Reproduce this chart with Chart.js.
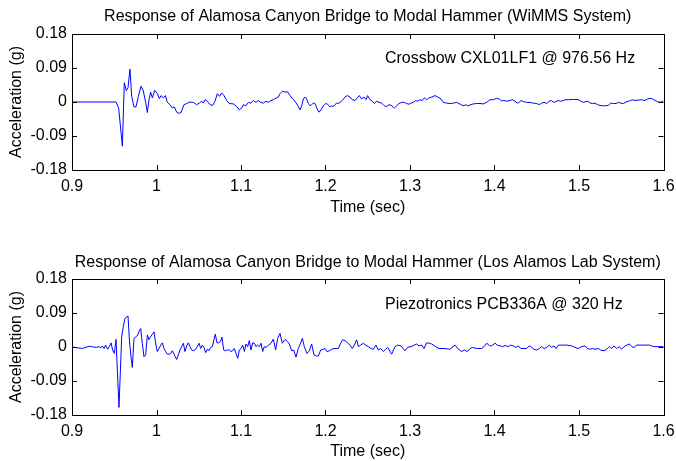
<!DOCTYPE html>
<html>
<head>
<meta charset="utf-8">
<script src="https://cdn.jsdelivr.net/npm/chart.js@4.4.1/dist/chart.umd.min.js"></script>
<style>
  html, body { margin: 0; padding: 0; background: #fff; }
  #wrap { position: relative; width: 676px; height: 461px; overflow: hidden; }
  canvas { position: absolute; left: 0; }
</style>
</head>
<body>
<div id="wrap">
  <canvas id="topChart" width="676" height="230" style="top:0"></canvas>
  <canvas id="bottomChart" width="676" height="231" style="top:230px"></canvas>
</div>
<script>
// tick labels
const xTicks = [0.9, 1.0, 1.1, 1.2, 1.3, 1.4, 1.5, 1.6];
const xTickLabels = ['0.9', '1', '1.1', '1.2', '1.3', '1.4', '1.5', '1.6'];
const yTicks = [-0.18, -0.09, 0, 0.09, 0.18];
const yTickLabels = ['-0.18', '-0.09', '0', '0.09', '0.18'];

// WiMMS (Crossbow, 976.56 Hz)
const wimmsTime = [
  0.9, 0.9521, 0.9552, 0.9596, 0.9619, 0.9643, 0.9663, 0.9686, 0.9706, 0.9734,
  0.9757, 0.9785, 0.9817, 0.9844, 0.9872, 0.9892, 0.9911, 0.9931, 0.9951, 0.9978,
  1.0010, 1.0034, 1.0053, 1.0081, 1.0105, 1.0128, 1.0160, 1.0187, 1.0211, 1.0239,
  1.0266, 1.0290, 1.0325, 1.0357, 1.0396, 1.0436, 1.0475, 1.0507, 1.0535, 1.0554,
  1.0574, 1.0602, 1.0633, 1.0665, 1.0692, 1.0720, 1.0744, 1.0771, 1.0799, 1.0830,
  1.0862, 1.0909, 1.0949, 1.0980, 1.1008, 1.1028, 1.1059, 1.1087, 1.1118, 1.1146,
  1.1177, 1.1205, 1.1233, 1.1264, 1.1296, 1.1323, 1.1351, 1.1383, 1.1414, 1.1442,
  1.1462, 1.1493, 1.1521, 1.1552, 1.1580, 1.1611, 1.1639, 1.1679, 1.1698, 1.1718,
  1.1738, 1.1757, 1.1777, 1.1797, 1.1817, 1.1836, 1.1856, 1.1876, 1.1896, 1.1923,
  1.1947, 1.1974, 1.2002, 1.2026, 1.2053, 1.2073, 1.2093, 1.2112, 1.2132, 1.2152,
  1.2172, 1.2199, 1.2231, 1.2258, 1.2290, 1.2318, 1.2349, 1.2377, 1.2400, 1.2428,
  1.2456, 1.2479, 1.2499, 1.2527, 1.2554, 1.2578, 1.2606, 1.2633, 1.2665, 1.2696,
  1.2724, 1.2752, 1.2783, 1.2815, 1.2842, 1.2870, 1.2901, 1.2933, 1.2961, 1.2988,
  1.3012, 1.3040, 1.3067, 1.3091, 1.3118, 1.3146, 1.3170, 1.3197, 1.3225, 1.3257,
  1.3296, 1.3328, 1.3367, 1.3395, 1.3434, 1.3474, 1.3513, 1.3552, 1.3580, 1.3611,
  1.3639, 1.3659, 1.3682, 1.3710, 1.3750, 1.3789, 1.3828, 1.3868, 1.3907, 1.3947,
  1.3986, 1.4026, 1.4057, 1.4085, 1.4112, 1.4144, 1.4183, 1.4215, 1.4243, 1.4270,
  1.4294, 1.4314, 1.4341, 1.4381, 1.4420, 1.4460, 1.4499, 1.4531, 1.4558, 1.4586,
  1.4617, 1.4649, 1.4677, 1.4696, 1.4728, 1.4755, 1.4783, 1.4815, 1.4834, 1.4874,
  1.4933, 1.4992, 1.5024, 1.5051, 1.5083, 1.5111, 1.5130, 1.5162, 1.5189, 1.5217,
  1.5249, 1.5280, 1.5308, 1.5347, 1.5375, 1.5406, 1.5438, 1.5466, 1.5493, 1.5525,
  1.5556, 1.5584, 1.5612, 1.5635, 1.5663, 1.5702, 1.5742, 1.5781, 1.5809, 1.5840,
  1.5872, 1.5900, 1.5927, 1.5959, 1.5990, 1.6
];
const wimmsAccel = [
  0, 0, -0.016, -0.117, 0.051, 0.030, 0.038, 0.087, 0.015, -0.013,
  -0.013, 0.015, 0.042, 0.029, -0.001, -0.028, 0.006, 0.026, 0.011, 0.031,
  0.022, 0.009, 0.017, 0.011, 0.017, -0.001, -0.007, -0.016, -0.013, -0.027,
  -0.030, -0.028, -0.007, -0.004, 0, -0.001, -0.007, -0.003, 0.002, -0.003,
  0.006, 0.002, -0.007, -0.009, 0.002, 0.022, 0.015, 0.024, 0.017, 0.004,
  -0.004, -0.005, -0.012, -0.021, -0.016, -0.007, -0.010, -0.001, -0.003, 0.004,
  -0.001, 0.004, -0.001, -0.003, 0.002, -0.001, 0.004, 0.006, 0.010, 0.013,
  0.022, 0.029, 0.026, 0.027, 0.017, 0.008, 0.002, -0.012, -0.021, -0.010,
  0.008, 0.013, 0.008, -0.004, -0.010, -0.007, -0.003, -0.004, -0.016, -0.027,
  -0.021, -0.010, -0.004, -0.006, -0.013, -0.010, -0.012, -0.007, -0.003, -0.004,
  -0.001, 0.004, 0.013, 0.017, 0.013, 0.006, 0.004, 0.011, 0.017, 0.008,
  0.013, 0.006, 0.017, 0.006, 0.002, -0.004, 0.002, -0.001, -0.003, -0.010,
  -0.012, -0.007, -0.010, -0.016, -0.010, -0.004, -0.001, -0.001, -0.004, -0.006,
  -0.003, -0.001, 0.004, 0.002, 0.006, 0.004, 0.011, 0.006, 0.011, 0.013,
  0.017, 0.013, 0.008, -0.001, -0.003, -0.004, -0.003, -0.001, -0.004, -0.008,
  -0.010, -0.007, -0.010, -0.008, -0.005, -0.004, -0.004, -0.005, -0.001, 0.006,
  0.006, 0.010, 0.008, 0.003, 0.004, 0.002, 0.004, 0.006, 0.002, -0.003,
  -0.001, 0.004, 0.001, -0.001, -0.001, -0.003, -0.004, -0.007, -0.003, -0.001,
  -0.004, 0.002, 0.004, -0.001, 0.001, 0.004, 0.002, 0.004, 0.006, 0.006,
  0.007, 0.006, 0.002, -0.001, 0.001, 0.002, -0.003, -0.004, -0.003, -0.007,
  -0.009, -0.010, -0.010, -0.009, -0.003, -0.004, -0.004, -0.001, -0.003, -0.004,
  0, 0.002, 0.004, 0.006, 0.004, 0.005, 0.006, 0.004, 0.008, 0.010,
  0.008, 0.004, 0.001, -0.001, 0.002, 0.002
];

// Los Alamos lab system (PCB336A, 320 Hz)
const lanlTime = [
  0.9, 0.9126, 0.9154, 0.9213, 0.9252, 0.9292, 0.9323, 0.9339, 0.9359, 0.9379,
  0.9398, 0.9422, 0.9442, 0.9462, 0.9481, 0.9501, 0.9521, 0.9556, 0.9588, 0.9607,
  0.9627, 0.9663, 0.9679, 0.9698, 0.9714, 0.9734, 0.9753, 0.9777, 0.9793, 0.9813,
  0.9832, 0.9852, 0.9872, 0.9892, 0.9911, 0.9931, 0.9951, 0.9971, 0.9990, 1.0010,
  1.0030, 1.0050, 1.0069, 1.0089, 1.0109, 1.0128, 1.0148, 1.0168, 1.0187, 1.0211,
  1.0239, 1.0259, 1.0278, 1.0298, 1.0318, 1.0337, 1.0357, 1.0377, 1.0397, 1.0416,
  1.0436, 1.0464, 1.0483, 1.0503, 1.0523, 1.0542, 1.0562, 1.0582, 1.0602, 1.0621,
  1.0641, 1.0661, 1.0680, 1.0696, 1.0716, 1.0736, 1.0756, 1.0775, 1.0795, 1.0815,
  1.0838, 1.0862, 1.0882, 1.0901, 1.0921, 1.0941, 1.0961, 1.0980, 1.1000, 1.1020,
  1.1040, 1.1059, 1.1079, 1.1099, 1.1118, 1.1138, 1.1158, 1.1178, 1.1197, 1.1217,
  1.1237, 1.1257, 1.1276, 1.1296, 1.1316, 1.1355, 1.1383, 1.1410, 1.1434, 1.1462,
  1.1489, 1.1521, 1.1552, 1.1572, 1.1600, 1.1623, 1.1651, 1.1678, 1.1702, 1.1726,
  1.1749, 1.1781, 1.1809, 1.1836, 1.1864, 1.1895, 1.1915, 1.1943, 1.1974, 1.1994,
  1.2018, 1.2045, 1.2073, 1.2101, 1.2132, 1.2152, 1.2179, 1.2203, 1.2231, 1.2258,
  1.2290, 1.2318, 1.2341, 1.2369, 1.2389, 1.2416, 1.2448, 1.2475, 1.2507, 1.2538,
  1.2566, 1.2598, 1.2625, 1.2653, 1.2684, 1.2712, 1.2736, 1.2783, 1.2822, 1.2854,
  1.2893, 1.2941, 1.2972, 1.3012, 1.3051, 1.3079, 1.3106, 1.3138, 1.3166, 1.3197,
  1.3229, 1.3256, 1.3304, 1.3343, 1.3414, 1.3473, 1.3533, 1.3572, 1.3611, 1.3643,
  1.3678, 1.3710, 1.3742, 1.3789, 1.3848, 1.3876, 1.3907, 1.3939, 1.3966, 1.4006,
  1.4033, 1.4065, 1.4097, 1.4124, 1.4164, 1.4191, 1.4223, 1.4254, 1.4282, 1.4310,
  1.4349, 1.4381, 1.4412, 1.4440, 1.4467, 1.4499, 1.4531, 1.4558, 1.4586, 1.4617,
  1.4649, 1.4677, 1.4704, 1.4728, 1.4755, 1.4795, 1.4854, 1.4913, 1.4953, 1.4992,
  1.5032, 1.5071, 1.5099, 1.5130, 1.5162, 1.5189, 1.5229, 1.5256, 1.5296, 1.5327,
  1.5359, 1.5387, 1.5414, 1.5446, 1.5477, 1.5505, 1.5533, 1.5564, 1.5596, 1.5623,
  1.5651, 1.5683, 1.5722, 1.5781, 1.5833, 1.5860, 1.5888, 1.5939, 1.6
];
const lanlAccel = [
  0, -0.004, -0.001, 0.002, 0, -0.001, 0.001, -0.003, 0.003, -0.004,
  0.005, -0.006, 0.001, 0.011, -0.008, -0.017, 0.020, -0.160, 0.027, 0.054,
  0.076, 0.082, 0.019, -0.026, -0.054, 0.023, 0.026, 0.032, 0.041, 0.049,
  0.010, -0.026, -0.021, 0.032, 0.019, 0.027, 0.034, 0.040, 0.010, -0.012,
  -0.004, 0.005, 0.011, -0.004, -0.012, -0.019, -0.019, -0.017, -0.010, -0.021,
  -0.033, -0.021, -0.008, 0.001, 0.010, -0.012, 0.003, 0.011, 0.001, -0.008,
  -0.010, -0.006, 0.001, 0.010, -0.004, 0.005, -0.001, -0.015, -0.006, -0.010,
  -0.001, 0.001, 0.019, 0.034, 0.011, 0.011, 0.014, 0.026, -0.008, -0.010,
  -0.008, -0.008, -0.012, -0.010, -0.004, -0.017, -0.030, -0.008, -0.004, 0.005,
  -0.012, 0.008, 0.001, 0.017, -0.008, 0.011, 0.010, 0.001, 0.005, 0.001,
  0.010, -0.012, 0.001, -0.001, 0.003, 0.010, 0.021, -0.008, 0.023, 0.036,
  0.010, 0.020, 0.014, 0.008, -0.010, -0.008, -0.027, -0.004, 0.008, 0.023,
  0.001, -0.017, -0.010, 0.008, -0.021, -0.024, -0.024, -0.008, -0.006, -0.004,
  -0.012, -0.010, -0.006, -0.004, -0.004, -0.004, 0.010, 0.019, 0.017, 0.012,
  0.005, -0.004, 0.005, 0.019, 0.001, 0.005, 0.010, 0.005, 0.001, -0.004,
  -0.006, 0.005, -0.008, -0.004, -0.012, -0.006, -0.001, -0.019, 0.001, 0.005,
  0.003, -0.010, -0.001, 0.001, 0.005, 0.008, 0.003, 0.005, -0.004, 0.011,
  0.010, 0.008, 0.001, -0.004, -0.004, -0.006, 0.005, -0.006, -0.012, -0.008,
  -0.012, -0.004, -0.001, -0.004, -0.004, 0.001, 0.010, 0.004, 0.003, 0.010,
  0.005, 0.003, 0.001, 0.004, 0.001, 0.005, 0.003, -0.001, 0.003, -0.004,
  -0.004, -0.004, 0.003, -0.001, -0.006, -0.008, -0.004, 0.001, -0.004, -0.001,
  0.005, -0.001, 0.003, -0.004, 0.005, 0.005, 0.005, 0.003, -0.001, -0.004,
  0.001, 0.003, -0.004, -0.006, -0.004, -0.006, -0.004, -0.008, -0.010, -0.006,
  0.001, -0.004, 0.003, -0.004, 0.001, -0.006, 0.001, 0.005, 0.008, 0.001,
  -0.001, 0.005, 0.005, 0.005, 0.005, 0.003, 0.001, 0.001, 0.001
];

const FONT = "'Liberation Sans', Arial, sans-serif";
const FSIZE = 16;

// matlab style: box, inward ticks, title over the axes, sensor note
const matlabBox = {
  id: 'matlabBox',
  afterDraw(chart, args, opts) {
    const ctx = chart.ctx;
    const a = chart.chartArea;
    const xs = chart.scales.x, ys = chart.scales.y;
    ctx.save();
    ctx.strokeStyle = '#000';
    ctx.lineWidth = 1;
    ctx.beginPath();
    xTicks.forEach(v => {
      const px = Math.round(xs.getPixelForValue(v)) + 0.5;
      ctx.moveTo(px, a.bottom); ctx.lineTo(px, a.bottom - 5);
      ctx.moveTo(px, a.top); ctx.lineTo(px, a.top + 5);
    });
    yTicks.forEach(v => {
      const py = Math.round(ys.getPixelForValue(v)) + 0.5;
      ctx.moveTo(a.left, py); ctx.lineTo(a.left + 5, py);
      ctx.moveTo(a.right, py); ctx.lineTo(a.right - 5, py);
    });
    ctx.stroke();
    ctx.strokeRect(Math.round(a.left) + 0.5, Math.round(a.top) + 0.5,
      Math.round(a.right - a.left), Math.round(a.bottom - a.top));
    ctx.fillStyle = '#000';
    ctx.font = FSIZE + 'px ' + FONT;
    ctx.textBaseline = 'middle';
    ctx.textAlign = 'center';
    ctx.fillText(opts.title, (a.left + a.right) / 2, opts.titleY);
    ctx.textAlign = 'left';
    ctx.fillText(opts.note, xs.getPixelForValue(opts.noteX), ys.getPixelForValue(opts.noteY));
    ctx.restore();
  }
};

function makeChart(id, title, time, accel, note, lay) {
  const pts = time.map((t, i) => ({ x: t, y: accel[i] }));
  return new Chart(document.getElementById(id), {
    type: 'line',
    data: {
      datasets: [{
        data: pts,
        borderColor: '#0000ff',
        borderWidth: 1,
        pointRadius: 0,
        tension: 0,
        fill: false
      }]
    },
    options: {
      responsive: false,
      animation: false,
      devicePixelRatio: 1,
      layout: { padding: { left: 0, right: 12.5, top: lay.top, bottom: 0 } },
      plugins: {
        legend: { display: false },
        tooltip: { enabled: false },
        title: { display: false },
        matlabBox: { title: title, titleY: lay.titleY, note: note, noteX: 1.2704, noteY: lay.noteY }
      },
      scales: {
        x: {
          type: 'linear',
          min: 0.9,
          max: 1.6,
          afterBuildTicks: s => { s.ticks = xTicks.map(v => ({ value: v })); },
          afterFit: s => { s.height = lay.xHeight; s.paddingLeft = 0; s.paddingRight = 0; },
          ticks: {
            color: '#000',
            font: { family: FONT, size: FSIZE },
            padding: 7,
            maxRotation: 0,
            callback: (v, i) => xTickLabels[i]
          },
          grid: { drawOnChartArea: false, drawTicks: false },
          border: { display: false },
          title: {
            display: true,
            text: 'Time (sec)',
            color: '#000',
            font: { family: FONT, size: FSIZE },
            padding: { top: lay.xTitlePad, bottom: lay.xTitlePad }
          }
        },
        y: {
          min: -0.18,
          max: 0.18,
          afterBuildTicks: s => { s.ticks = yTicks.map(v => ({ value: v })); },
          afterFit: s => { s.width = 72; s.paddingTop = 0; s.paddingBottom = 0; },
          ticks: {
            color: '#000',
            font: { family: FONT, size: FSIZE },
            padding: 5,
            callback: (v, i) => yTickLabels[i]
          },
          grid: { drawOnChartArea: false, drawTicks: false },
          border: { display: false },
          title: {
            display: true,
            text: 'Acceleration (g)',
            color: '#000',
            font: { family: FONT, size: FSIZE },
            padding: { top: 7.4, bottom: 7.4 }
          }
        }
      }
    },
    plugins: [matlabBox]
  });
}

makeChart('topChart',
  'Response of Alamosa Canyon Bridge to Modal Hammer (WiMMS System)',
  wimmsTime, wimmsAccel, 'Crossbow CXL01LF1 @ 976.56 Hz',
  { top: 34, titleY: 17, xHeight: 60, xTitlePad: 12.4, noteY: 0.114 });

makeChart('bottomChart',
  'Response of Alamosa Canyon Bridge to Modal Hammer (Los Alamos Lab System)',
  lanlTime, lanlAccel, 'Piezotronics PCB336A @ 320 Hz',
  { top: 49, titleY: 33, xHeight: 46, xTitlePad: 0, noteY: 0.112 });
</script>
</body>
</html>
